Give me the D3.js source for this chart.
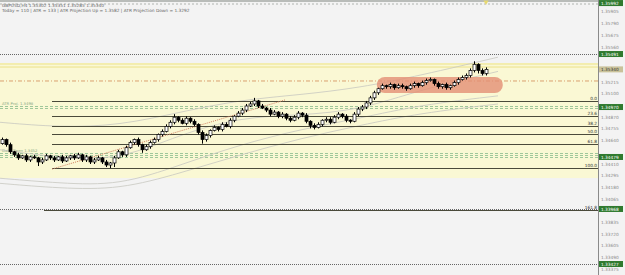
<!DOCTYPE html>
<html>
  <head>
    <meta charset="utf-8">
    <title>GBPUSD H4</title>
    <style>
    body { margin: 0; background: #f3f3f3; }
    svg { display: block; font-family: "DejaVu Sans", sans-serif; }
    .tick-label { font-size: 4.3px; fill: #8a8a8a; }
    .fib-label { font-size: 4.3px; fill: #333; text-anchor: end; }
    .head { font-size: 4.3px; fill: #666; }
    .side { font-size: 3.8px; fill: #8aa884; }
    </style>
  </head>
  <body>
    <svg width="625" height="275"></svg>
    <script src="https://d3js.org/d3.v7.min.js"></script>
    <script>

      // candle closes (GBPUSD H4), open = previous close
      var firstOpen = 1.3461;
      var closes = [
        1.3465, 1.3460, 1.3453, 1.3450, 1.3447, 1.3449, 1.3445, 1.3448, 1.3447, 1.3443,
        1.3445, 1.3449, 1.3447, 1.3445, 1.3448, 1.3444, 1.3447, 1.3449, 1.3447, 1.3450,
        1.3445, 1.3448, 1.3443, 1.3445, 1.3447, 1.3443, 1.3440, 1.3442, 1.3447, 1.3453,
        1.3450, 1.3457, 1.3462, 1.3465, 1.3460, 1.3455, 1.3458, 1.3462, 1.3465, 1.3470,
        1.3473, 1.3478, 1.3482, 1.3487, 1.3484, 1.3481, 1.3486, 1.3483, 1.3480, 1.3472,
        1.3465, 1.3469, 1.3474, 1.3477, 1.3475, 1.3480, 1.3478, 1.3484, 1.3488, 1.3491,
        1.3494, 1.3498, 1.3500, 1.3503, 1.3498, 1.3496, 1.3494, 1.3490, 1.3492, 1.3488,
        1.3490, 1.3486, 1.3484, 1.3487, 1.3491, 1.3489, 1.3483, 1.3479, 1.3477, 1.3480,
        1.3484, 1.3485, 1.3482, 1.3487, 1.3490, 1.3488, 1.3484, 1.3483, 1.3490, 1.3495,
        1.3497, 1.3501, 1.3506, 1.3511, 1.3515, 1.3518, 1.3517, 1.3519, 1.3516, 1.3518,
        1.3517, 1.3515, 1.3518, 1.3520, 1.3518, 1.3521, 1.3523, 1.3524, 1.3520, 1.3517,
        1.3519, 1.3516, 1.3518, 1.3521, 1.3524, 1.3526, 1.3528, 1.3533, 1.3539, 1.3533,
        1.3530, 1.3534
      ];
      // wicks beyond the body, in pips
      var upWicks = [
        2, 1, 2, 1, 2, 1, 2, 1, 2, 1, 2, 2, 1, 2, 1, 2, 2, 1, 2, 2,
        1, 2, 1, 2, 2, 1, 2, 1, 2, 2, 1, 2, 2, 1, 2, 1, 2, 2, 2, 1,
        2, 2, 2, 3, 1, 2, 2, 1, 2, 1, 2, 2, 1, 2, 1, 2, 2, 2, 1, 2,
        2, 2, 2, 3, 1, 2, 1, 2, 2, 1, 2, 1, 2, 2, 2, 1, 2, 1, 2, 2,
        1, 2, 2, 2, 2, 1, 2, 1, 2, 2, 2, 2, 2, 2, 1, 2, 1, 2, 1, 2,
        2, 1, 2, 2, 1, 2, 2, 2, 1, 2, 1, 2, 1, 2, 2, 2, 2, 2, 3, 1,
        2, 2
      ];
      var downWicks = [
        1, 2, 2, 2, 2, 1, 2, 2, 1, 4, 2, 1, 2, 2, 1, 2, 1, 2, 2, 1,
        2, 2, 2, 2, 1, 2, 2, 3, 4, 1, 2, 2, 1, 2, 2, 3, 1, 2, 1, 2,
        2, 1, 2, 2, 2, 1, 2, 2, 2, 2, 4, 2, 2, 1, 2, 2, 1, 2, 2, 1,
        2, 2, 1, 2, 2, 1, 2, 2, 1, 2, 2, 2, 2, 1, 2, 2, 2, 3, 2, 1,
        2, 2, 2, 1, 2, 2, 2, 2, 1, 2, 2, 2, 2, 2, 2, 1, 2, 2, 2, 1,
        2, 2, 1, 2, 2, 1, 2, 1, 2, 2, 2, 2, 2, 1, 2, 1, 2, 2, 2, 3,
        2, 2
      ];

      // right axis price labels
      var axisTicks = [
        1.33375, 1.33490, 1.33605, 1.33720, 1.33835, 1.33950, 1.34065, 1.34180,
        1.34295, 1.34410, 1.34525, 1.34640, 1.34755, 1.34870, 1.34985, 1.35100,
        1.35215, 1.35330, 1.35445, 1.35560, 1.35675, 1.35790, 1.35905
      ];

      // fibonacci retracement levels
      var fibNames = ["0.0", "23.6", "38.2", "50.0", "61.8", "100.0", "161.8"];
      var fibPrices = [1.3503, 1.3488, 1.3478, 1.3470, 1.3461, 1.3437, 1.3396];
      var fibStart = [12.5, 12.5, 12.5, 12.5, 12.5, 12.5, 10.5];

      // other horizontal levels
      var greenLabels = [1.35992, 1.35491, 1.34970, 1.34479, 1.33968, 1.33427];
      var dottedLevels = [1.35491, 1.33968, 1.33427];
      var greenDashLevels = [1.34980, 1.34960, 1.34518, 1.34498, 1.34479];
      var yellowLevels = [1.35393, 1.35363];
      var pivotLevel = 1.35226;
      var bandRange = [1.34272, 1.35403];
      var zoneIdx = [93.7, 125.2], zonePrice = [1.35108, 1.35265];
      var sideNotes = [
        {price: 1.34980, text: "ATR Proj. 1.3498"},
        {price: 1.34518, text: "Daily Open 1.3452"}
      ];

      // trend line (candle index, price)
      var trendIdx = [12.5, 70.8], trendPrice = [1.3436, 1.3504];

      // envelope curves (candle index, price)
      var curveIdx = [-0.5, 14.5, 29.5, 44.5, 59.5, 74.5, 89.5, 104.5, 124];
      var curves = [
        [1.3482, 1.3477, 1.3479, 1.3492, 1.3504, 1.3509, 1.3516, 1.3528, 1.3546],
        [1.3455, 1.3447, 1.3445, 1.3470, 1.3487, 1.3489, 1.3494, 1.3514, 1.3532],
        [1.3427, 1.3422, 1.3420, 1.3440, 1.3460, 1.3475, 1.3486, 1.3499, 1.3508],
        [1.3422, 1.3417, 1.3416, 1.3432, 1.3450, 1.3466, 1.3479, 1.3491, 1.3500]
      ];

      var svg = d3.select("svg"),
          plotRight = 598,
          width = +svg.attr("width"),
          height = +svg.attr("height");

      var x = d3.scaleLinear().domain([0, closes.length - 1]).range([2, 486]),
          y = d3.scaleLinear().domain([1.33319, 1.36022]).range([height, 0]);

      var candles = closes.map(function(c, i) {
        var o = i === 0 ? firstOpen : closes[i - 1];
        return {
          i: i, o: o, c: c,
          h: Math.max(o, c) + upWicks[i] * 0.0001,
          l: Math.min(o, c) - downWicks[i] * 0.0001
        };
      });

      var g = svg.append("g");

      // yellow band
      g.append("rect")
          .attr("x", 0).attr("width", plotRight)
          .attr("y", y(bandRange[1]))
          .attr("height", y(bandRange[0]) - y(bandRange[1]))
          .attr("fill", "#faf8d4");

      // top strip
      g.append("rect").attr("x", 0).attr("y", 0).attr("width", width).attr("height", 2).attr("fill", "#b9bcb9");
      g.append("line").attr("x1", 0).attr("x2", plotRight).attr("y1", 4).attr("y2", 4)
          .attr("stroke", "#b0b4b0").attr("stroke-dasharray", "2,2");
      g.append("path")
          .attr("d", d3.symbol(d3.symbolTriangle, 12)())
          .attr("transform", "translate(" + x(closes.length - 1) + ",2) rotate(180)")
          .attr("fill", "#e6d870");

      g.selectAll(".yl").data(yellowLevels).enter().append("line")
          .attr("x1", 0).attr("x2", plotRight)
          .attr("y1", function(d) { return y(d); }).attr("y2", function(d) { return y(d); })
          .attr("stroke", "#ece28a").attr("stroke-width", 1);

      g.selectAll(".dl").data(dottedLevels).enter().append("line")
          .attr("x1", 0).attr("x2", plotRight)
          .attr("y1", function(d) { return Math.round(y(d)) + 0.5; }).attr("y2", function(d) { return Math.round(y(d)) + 0.5; })
          .attr("stroke", "#666").attr("stroke-dasharray", "1,1");

      g.selectAll(".gl").data(greenDashLevels).enter().append("line")
          .attr("x1", 0).attr("x2", plotRight)
          .attr("y1", function(d) { return Math.round(y(d)) + 0.5; }).attr("y2", function(d) { return Math.round(y(d)) + 0.5; })
          .attr("stroke", "#9fc79a").attr("stroke-dasharray", "3,2");

      g.selectAll(".sn").data(sideNotes).enter().append("text")
          .attr("class", "side")
          .attr("x", 2).attr("y", function(d) { return y(d.price) - 1; })
          .text(function(d) { return d.text; });

      g.append("line")
          .attr("x1", 0).attr("x2", plotRight)
          .attr("y1", y(pivotLevel)).attr("y2", y(pivotLevel))
          .attr("stroke", "#d9a070").attr("stroke-dasharray", "4,2,1,2");

      // envelope curves
      var curveLine = d3.line()
          .x(function(d, i) { return x(curveIdx[i]); })
          .y(function(d) { return y(d); })
          .curve(d3.curveBasis);
      g.selectAll(".env").data(curves).enter().append("path")
          .attr("d", curveLine)
          .attr("fill", "none").attr("stroke", "#c8c8c0").attr("stroke-width", 0.8);

      // fibonacci lines
      g.selectAll(".fib").data(fibPrices).enter().append("line")
          .attr("x1", function(d, i) { return x(fibStart[i]); }).attr("x2", plotRight)
          .attr("y1", function(d) { return Math.round(y(d)) + 0.5; }).attr("y2", function(d) { return Math.round(y(d)) + 0.5; })
          .attr("stroke", "#4a4a3a").attr("stroke-width", 1);
      g.selectAll(".fibt").data(fibPrices).enter().append("text")
          .attr("class", "fib-label")
          .attr("x", plotRight - 1).attr("y", function(d) { return y(d) - 1; })
          .text(function(d, i) { return fibNames[i]; });

      // trend line
      g.append("line")
          .attr("x1", x(trendIdx[0])).attr("y1", y(trendPrice[0]))
          .attr("x2", x(trendIdx[1])).attr("y2", y(trendPrice[1]))
          .attr("stroke", "#d08060").attr("stroke-dasharray", "1,1");

      // highlighted zone
      g.append("rect")
          .attr("x", x(zoneIdx[0])).attr("width", x(zoneIdx[1]) - x(zoneIdx[0]))
          .attr("y", y(zonePrice[1])).attr("height", y(zonePrice[0]) - y(zonePrice[1]))
          .attr("rx", 8)
          .attr("fill", "#e38f74").attr("opacity", 0.8);

      // candles
      var cg = g.selectAll(".candle").data(candles).enter().append("g");
      cg.append("line")
          .attr("x1", function(d) { return Math.round(x(d.i)) + 0.5; })
          .attr("x2", function(d) { return Math.round(x(d.i)) + 0.5; })
          .attr("y1", function(d) { return y(d.h); }).attr("y2", function(d) { return y(d.l); })
          .attr("stroke", "#000").attr("stroke-width", 1);
      cg.append("rect")
          .attr("x", function(d) { return Math.round(x(d.i)) - 1; })
          .attr("width", 3)
          .attr("y", function(d) { return y(Math.max(d.o, d.c)); })
          .attr("height", function(d) { return Math.max(1, Math.abs(y(d.o) - y(d.c))); })
          .attr("fill", function(d) { return d.c >= d.o ? "#fff" : "#000"; })
          .attr("stroke", "#000").attr("stroke-width", 0.7);

      // right axis
      var ax = svg.append("g");
      ax.append("rect").attr("x", plotRight).attr("y", 0).attr("width", width - plotRight).attr("height", height).attr("fill", "#f3f3f3");
      ax.append("line").attr("x1", plotRight + 0.5).attr("x2", plotRight + 0.5).attr("y1", 0).attr("y2", height)
          .attr("stroke", "#8a8a8a");
      var last = closes[closes.length - 1];
      var boxed = greenLabels.concat([last]);
      ax.selectAll(".tk")
          .data(axisTicks.filter(function(t) {
            return boxed.every(function(b) { return Math.abs(y(t) - y(b)) > 5; });
          }))
          .enter().append("text")
          .attr("class", "tick-label")
          .attr("x", plotRight + 3).attr("y", function(d) { return y(d) + 1.5; })
          .text(function(d) { return d.toFixed(5); });

      var labels = ax.selectAll(".gb").data(greenLabels).enter().append("g");
      labels.append("rect")
          .attr("x", plotRight + 1).attr("y", function(d) { return y(d) - 3; })
          .attr("width", 24).attr("height", 6).attr("fill", "#2f7a2f");
      labels.append("text")
          .attr("x", plotRight + 3).attr("y", function(d) { return y(d) + 1.6; })
          .attr("fill", "#fff").style("font-size", "4.3px")
          .text(function(d) { return d.toFixed(5); });

      ax.append("rect").attr("x", plotRight + 1).attr("y", y(last) - 3).attr("width", 24).attr("height", 6).attr("fill", "#c9c29a");
      ax.append("text").attr("x", plotRight + 3).attr("y", y(last) + 1.6)
          .attr("fill", "#333").style("font-size", "4.3px").text(last.toFixed(5));

      // header
      svg.append("text").attr("class", "head").attr("x", 2).attr("y", 7)
          .text("GBPUSD,H4  1.35302 1.35351 1.35285 1.35340");
      svg.append("text").attr("class", "head").attr("x", 2).attr("y", 12)
          .text("Today = 110   |   ATR = 133   |   ATR Projection Up = 1.3582   |   ATR Projection Down = 1.3292");

    </script>
  </body>
</html>
